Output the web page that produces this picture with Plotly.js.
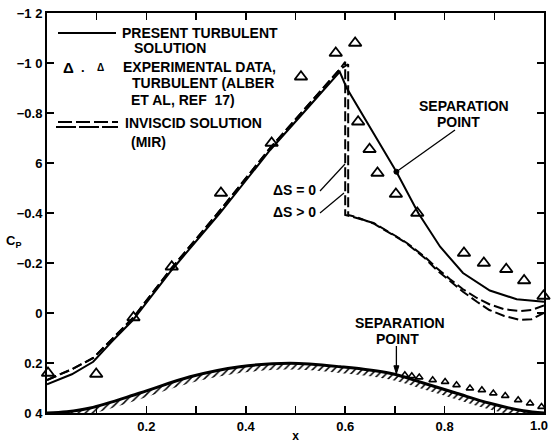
<!DOCTYPE html>
<html>
<head>
<meta charset="utf-8">
<script src="https://cdn.plot.ly/plotly-3.0.1.min.js"></script>
<style>html,body{margin:0;padding:0;background:#fff;}#chart{width:551px;height:443px;}</style>
</head>
<body>
<div id="chart"></div>
<script>
// ---- Data ----
// Present turbulent solution (solid)
const xTurb  = [0, 0.05, 0.093, 0.13, 0.173, 0.251, 0.348, 0.449, 0.52, 0.589, 0.603, 0.65, 0.703, 0.747, 0.791, 0.837, 0.891, 0.945, 1.0];
const cpTurb = [0.285, 0.245, 0.195, 0.115, 0.028, -0.172, -0.40, -0.652, -0.81, -0.965, -0.90, -0.743, -0.565, -0.40, -0.265, -0.16, -0.09, -0.055, -0.045];

// Inviscid solution (MIR), delta S = 0
const xInv1  = [0, 0.05, 0.093, 0.13, 0.173, 0.251, 0.348, 0.449, 0.52, 0.589, 0.600, 0.600, 0.615, 0.657, 0.70, 0.724, 0.76, 0.784, 0.811, 0.837, 0.865, 0.89, 0.92, 0.952, 0.975, 1.0];
const cpInv1 = [0.268, 0.225, 0.18, 0.105, 0.02, -0.18, -0.41, -0.66, -0.82, -0.975, -1.005, -0.392, -0.385, -0.36, -0.31, -0.28, -0.225, -0.18, -0.135, -0.095, -0.06, -0.035, -0.015, -0.008, -0.012, -0.03];

// Inviscid solution (MIR), delta S > 0
const xInv2  = [0, 0.05, 0.093, 0.13, 0.173, 0.251, 0.348, 0.449, 0.52, 0.589, 0.606, 0.606, 0.62, 0.657, 0.70, 0.724, 0.76, 0.784, 0.811, 0.837, 0.865, 0.89, 0.92, 0.952, 0.975, 1.0];
const cpInv2 = [0.268, 0.225, 0.18, 0.105, 0.02, -0.18, -0.41, -0.66, -0.82, -0.975, -0.995, -0.392, -0.385, -0.358, -0.308, -0.278, -0.22, -0.172, -0.128, -0.085, -0.045, -0.012, 0.012, 0.028, 0.025, 0.0];

// Experimental data, turbulent (Alber et al, ref 17) - large symbols
const xExp  = [0.002, 0.099, 0.174, 0.251, 0.350, 0.452, 0.511, 0.581, 0.620, 0.626, 0.649, 0.665, 0.702, 0.745, 0.839, 0.879, 0.924, 0.960, 0.999];
const cpExp = [0.24, 0.244, 0.018, -0.185, -0.48, -0.68, -0.945, -1.04, -1.08, -0.765, -0.655, -0.56, -0.476, -0.40, -0.24, -0.20, -0.175, -0.13, -0.068];

// Experimental data - small symbols (along the body)
const xExpS  = [0.720, 0.734, 0.749, 0.776, 0.801, 0.824, 0.851, 0.875, 0.898, 0.922, 0.948, 0.972, 0.995];
const cpExpS = [0.248, 0.252, 0.257, 0.268, 0.275, 0.288, 0.301, 0.308, 0.321, 0.331, 0.348, 0.361, 0.375];

// Body contour (bump)
const xBody  = [0, 0.04, 0.087, 0.187, 0.288, 0.388, 0.489, 0.590, 0.690, 0.757, 0.824, 0.891, 0.958, 1.0];
const cpBody = [0.40, 0.395, 0.38, 0.32, 0.255, 0.215, 0.201, 0.215, 0.241, 0.28, 0.321, 0.361, 0.391, 0.40];

// Separation points
const sepUpper = {x: 0.703, cp: -0.565};
const sepLower = {x: 0.703, cp: 0.243};

// Tick labels
const xTickVals = [0.2, 0.4, 0.6, 0.8];
const xTickText = ['0.2', '0.4', '0.6', '0.8'];
const xLastTick = '1.0';
const yTickVals = [-1.2, -1.0, -0.8, -0.6, -0.4, -0.2, 0, 0.2, 0.4];
const yTickText = ['\u22121 2', '\u22121 0', '\u22120.8', '6', '\u22120.4', '\u22120.2', '0', '0.2', '0 4'];

// ---- Layout helpers (pixel -> paper / data) ----
const L = 47, R = 544, T = 13, B = 413;
const PX = px => (px - L) / (R - L);
const PY = py => (B - py) / (B - T);
const DX = px => (px - L) / (R - L);
const DY = py => -1.2 + (py - T) / (B - T) * 1.6;

const hatchOffset = 0.025;
const cpBodyLow = cpBody.map(v => v + hatchOffset);

const traces = [
  {x: xBody, y: cpBody, mode: 'lines', line: {color: 'black', width: 3, shape: 'spline'}, hoverinfo: 'skip'},
  {x: xBody, y: cpBodyLow, mode: 'lines', line: {color: 'rgba(0,0,0,0)', width: 0, shape: 'spline'}, fill: 'tonexty',
   fillcolor: 'rgba(0,0,0,0)', fillpattern: {shape: '/', size: 5, solidity: 0.3, fgcolor: 'black', bgcolor: 'rgba(0,0,0,0)'}, hoverinfo: 'skip'},
  {x: xInv1, y: cpInv1, mode: 'lines', line: {color: 'black', width: 2, dash: '10px,4px'}},
  {x: xInv2, y: cpInv2, mode: 'lines', line: {color: 'black', width: 2, dash: '10px,4px'}},
  {x: xTurb, y: cpTurb, mode: 'lines', line: {color: 'black', width: 2}},
  {x: xExp, y: cpExp, mode: 'markers', cliponaxis: false,
   marker: {symbol: 'triangle-up-open', size: 11, color: 'black', line: {color: 'black', width: 1.8}}},
  {x: xExpS, y: cpExpS, mode: 'markers', cliponaxis: false,
   marker: {symbol: 'triangle-up-open', size: 6.5, color: 'black', line: {color: 'black', width: 1.6}}}
];

const bold = {family: 'Liberation Sans, Arial, sans-serif', size: 14, color: 'black', weight: 700};
function txt(text, px, py, anchor, size) {
  return {text: text, xref: 'paper', yref: 'paper', x: PX(px), y: PY(py), xanchor: anchor || 'left', yanchor: 'middle',
          showarrow: false, font: Object.assign({}, bold, size ? {size: size} : {})};
}

const annotations = [
  txt('PRESENT TURBULENT', 120, 33),
  txt('SOLUTION', 132, 48),
  txt('EXPERIMENTAL DATA,', 121, 67),
  txt('TURBULENT (ALBER', 130, 83),
  txt('ET AL, REF  17)', 129, 100),
  txt('INVISCID SOLUTION', 123, 123),
  txt('(MIR)', 129, 142),
  txt('\u0394', 68, 67, 'center', 15),
  txt('.', 83, 68, 'center', 13),
  txt('\u0394', 100, 68, 'center', 10),
  txt('\u0394S = 0', 318, 190, 'right'),
  txt('\u0394S > 0', 318, 212, 'right'),
  txt('SEPARATION', 464, 106, 'center'),
  txt('POINT', 458, 122, 'center'),
  txt('SEPARATION', 400, 323, 'center'),
  txt('POINT', 397, 339, 'center'),
  txt('C<sub>P</sub>', 13, 241, 'center', 13),
  txt(xLastTick, 550, 425, 'right', 13)
];

const shapes = [
  // legend samples
  {type: 'line', xref: 'paper', yref: 'paper', x0: PX(58), x1: PX(116), y0: PY(33), y1: PY(33), line: {color: 'black', width: 2}},
  {type: 'line', xref: 'paper', yref: 'paper', x0: PX(58), x1: PX(118), y0: PY(122), y1: PY(122), line: {color: 'black', width: 2, dash: '14px,4px'}},
  {type: 'line', xref: 'paper', yref: 'paper', x0: PX(56), x1: PX(118), y0: PY(127), y1: PY(127), line: {color: 'black', width: 2, dash: '20px,3px'}},
  // delta S leader lines
  {type: 'line', xref: 'x', yref: 'y', x0: DX(320), y0: DY(191), x1: DX(345), y1: DY(164), line: {color: 'black', width: 1.2}},
  {type: 'line', xref: 'x', yref: 'y', x0: DX(320), y0: DY(213), x1: DX(344), y1: DY(193), line: {color: 'black', width: 1.2}},
  // upper separation point leader and dot
  {type: 'line', xref: 'x', yref: 'y', x0: DX(455), y0: DY(130), x1: sepUpper.x, y1: sepUpper.cp, line: {color: 'black', width: 1.3}},
  {type: 'circle', xref: 'x', yref: 'y', xsizemode: 'pixel', ysizemode: 'pixel', xanchor: sepUpper.x, yanchor: sepUpper.cp,
   x0: -2.5, x1: 2.5, y0: -2.5, y1: 2.5, fillcolor: 'black', line: {color: 'black', width: 1}},
  // lower separation point arrow
  {type: 'line', xref: 'x', yref: 'y', x0: sepLower.x, y0: DY(346), x1: sepLower.x, y1: sepLower.cp, line: {color: 'black', width: 1.3}},
  {type: 'path', xref: 'x', yref: 'y', xsizemode: 'pixel', ysizemode: 'pixel', xanchor: sepLower.x, yanchor: sepLower.cp,
   path: 'M -2.5 8 L 0 0 L 2.5 8 Z', fillcolor: 'black', line: {color: 'black', width: 1}}
];

const layout = {
  width: 551, height: 443,
  margin: {l: 47, r: 7, t: 13, b: 30, pad: 0},
  paper_bgcolor: 'white', plot_bgcolor: 'white',
  showlegend: false,
  font: bold,
  xaxis: {range: [0, 1], tickmode: 'array', tickvals: xTickVals, ticktext: xTickText,
    ticks: 'inside', ticklen: 7, tickwidth: 1.5, tickcolor: 'black',
    minor: {dtick: 0.1, tick0: 0, ticks: 'inside', ticklen: 7, tickwidth: 1.5, tickcolor: 'black', showgrid: false},
    showline: true, mirror: 'ticks', linewidth: 2, linecolor: 'black',
    showgrid: false, zeroline: false, tickfont: {size: 13, weight: 700},
    title: {text: 'x', font: {size: 12, weight: 700}, standoff: 2}},
  yaxis: {range: [0.4, -1.2], tickmode: 'array', tickvals: yTickVals, ticktext: yTickText,
    ticks: 'inside', ticklen: 7, tickwidth: 1.5, tickcolor: 'black', ticklabeloverflow: 'allow',
    showline: true, mirror: 'ticks', linewidth: 2, linecolor: 'black',
    showgrid: false, zeroline: false, tickfont: {size: 13, weight: 700}},
  annotations: annotations,
  shapes: shapes
};

Plotly.newPlot('chart', traces, layout, {staticPlot: true, displayModeBar: false});
</script>
</body>
</html>
